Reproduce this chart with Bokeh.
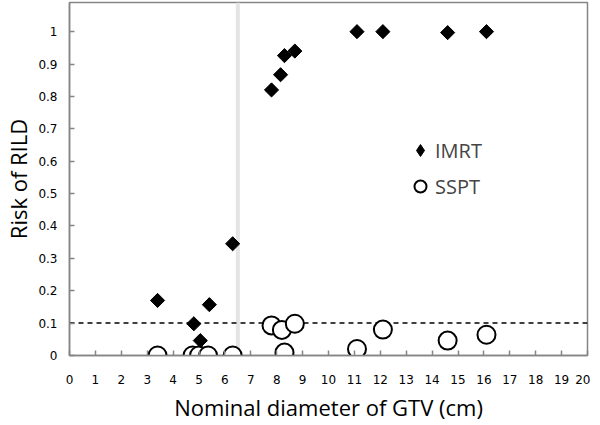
import math
from bokeh.plotting import figure
from bokeh.models import FixedTicker, Span, Legend, LegendItem, ColumnDataSource
from bokeh.embed import file_html
from bokeh.resources import INLINE

# ---- data ----
imrt_x = [3.4, 4.8, 5.05, 5.4, 6.3, 7.8, 8.15, 8.3, 8.7, 11.1, 12.1, 14.6, 16.1]
imrt_y = [0.17, 0.098, 0.046, 0.157, 0.345, 0.82, 0.867, 0.926, 0.94, 1.0, 1.0, 0.997, 1.0]
sspt_x = [3.4, 4.75, 5.0, 5.35, 6.3, 7.8, 8.2, 8.3, 8.7, 11.1, 12.1, 14.6, 16.1]
sspt_y = [0.0, 0.0, 0.0, 0.0, 0.0, 0.093, 0.079, 0.009, 0.098, 0.02, 0.08, 0.046, 0.064]
threshold_size = 6.5
risk_threshold = 0.1
x_ticks = list(range(0, 21))
y_ticks = [0, 0.1, 0.2, 0.3, 0.4, 0.5, 0.6, 0.7, 0.8, 0.9, 1]
y_tick_labels = ["0", "0.1", "0.2", "0.3", "0.4", "0.5", "0.6", "0.7", "0.8", "0.9", "1"]

GREY = "#858585"

p = figure(frame_width=518, frame_height=353, output_backend="svg", toolbar_location=None,
           x_range=(0, 20), y_range=(0, 1.09),
           min_border_left=63, min_border_right=3, min_border_top=2, min_border_bottom=70)
p.background_fill_color = "white"
p.border_fill_color = "white"
p.outline_line_color = GREY
p.outline_line_width = 1.5
p.xgrid.visible = False
p.ygrid.visible = False

vline = Span(location=threshold_size, dimension="height", line_color="#e4e4e4",
             line_width=4, level="underlay")
hline = Span(location=risk_threshold, dimension="width", line_color="black",
             line_width=1.5, line_dash="5 4", level="underlay")
p.add_layout(vline)
p.add_layout(hline)

src_i = ColumnDataSource(dict(x=imrt_x, y=imrt_y))
src_s = ColumnDataSource(dict(x=sspt_x, y=sspt_y))

# legend proxy for IMRT (diamond), drawn first so the rotated squares cover it
leg_i = p.scatter("x", "y", source=src_i, marker="diamond", size=12,
                  fill_color="black", line_color="black")
r_s = p.scatter("x", "y", source=src_s, marker="circle", size=18,
                fill_color="white", line_color="black", line_width=2)
r_i = p.scatter("x", "y", source=src_i, marker="square", size=10, angle=math.pi / 4,
                fill_color="black", line_color="black", line_width=1)

for ax in (p.xaxis[0], p.yaxis[0]):
    ax.axis_line_color = GREY
    ax.axis_line_width = 1.5
    ax.major_tick_line_color = GREY
    ax.major_tick_line_width = 1.5
    ax.major_tick_in = 5
    ax.major_tick_out = 0
    ax.minor_tick_line_color = None
    ax.major_label_text_font = "DejaVu Sans"
    ax.major_label_text_font_size = "12px"
    ax.major_label_text_color = "black"
    ax.axis_label_text_font = "Open Sans"
    ax.axis_label_text_font_size = "22px"
    ax.axis_label_text_font_style = "normal"
    ax.axis_label_text_color = "black"

p.xaxis.ticker = FixedTicker(ticks=x_ticks)
p.yaxis.ticker = FixedTicker(ticks=y_ticks)
p.yaxis.major_label_overrides = {t: l for t, l in zip(y_ticks, y_tick_labels)}
p.xaxis.major_label_standoff = 19
p.yaxis.major_label_standoff = 12
p.xaxis.axis_label = "Nominal diameter of GTV (cm)"
p.yaxis.axis_label = "Risk of RILD"
p.xaxis.axis_label_standoff = 5
p.yaxis.axis_label_standoff = 2

legend = Legend(items=[LegendItem(label="IMRT", renderers=[leg_i]),
                       LegendItem(label="SSPT", renderers=[r_s])],
                location=(336, 154), padding=0, margin=0, spacing=6,
                glyph_width=30, glyph_height=30, label_standoff=0,
                label_text_font="Open Sans", label_text_font_size="20px",
                border_line_color=None, background_fill_alpha=0)
p.add_layout(legend)

open("out.html", "w").write(file_html(p, INLINE))
